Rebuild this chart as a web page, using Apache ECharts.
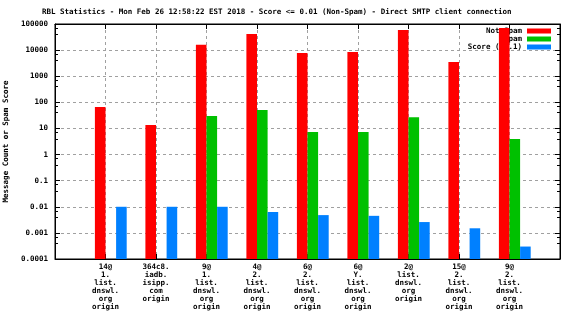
<!DOCTYPE html>
<html>
<head>
<meta charset="utf-8">
<script src="https://cdn.jsdelivr.net/npm/echarts@6/dist/echarts.min.js"></script>
<style>
  html, body { margin: 0; padding: 0; background: #fff; }
  #chart { width: 576px; height: 324px; }
</style>
</head>
<body>
<div id="chart"></div>
<script>
// RBL lookups per client: counts of non-spam / spam messages and the mean score
const categories = [
  '14@\n1.\nlist.\ndnswl.\norg\norigin',
  '364c8.\niadb.\nisipp.\ncom\norigin',
  '9@\n1.\nlist.\ndnswl.\norg\norigin',
  '4@\n2.\nlist.\ndnswl.\norg\norigin',
  '6@\n2.\nlist.\ndnswl.\norg\norigin',
  '6@\nY.\nlist.\ndnswl.\norg\norigin',
  '2@\nlist.\ndnswl.\norg\norigin',
  '15@\n2.\nlist.\ndnswl.\norg\norigin',
  '9@\n2.\nlist.\ndnswl.\norg\norigin'
];
const notSpam = [66, 13.6, 16000, 41500, 7700, 8450, 59000, 3500, 70000];
const spam = [null, null, 30, 51, 7.3, 7.3, 27, null, 3.9];
const score = [0.01, 0.01, 0.01, 0.0063, 0.0048, 0.0045, 0.0026, 0.0015, 0.0003];
const yTickLabels = ['0.0001', '0.001', '0.01', '0.1', '1', '10', '100', '1000', '10000', '100000'];

const FONT = 'DejaVu Sans Mono';
const FS = 7.5;
const FW = 'bold';

// one empty slot on each side of the nine clients
const pad = arr => [null].concat(arr, [null]);
const xData = pad(categories).map(v => v == null ? '' : v);

const gridLine = { show: true, lineStyle: { color: '#a0a0a0', type: [3, 3], width: 1 } };

const chart = echarts.init(document.getElementById('chart'), null, { renderer: 'canvas' });
chart.setOption({
  animation: false,
  backgroundColor: '#ffffff',
  textStyle: { fontFamily: FONT },
  title: {
    text: 'RBL Statistics - Mon Feb 26 12:58:22 EST 2018 - Score <= 0.01 (Non-Spam) - Direct SMTP client connection',
    left: 42, top: 8, padding: 0,
    textStyle: { fontFamily: FONT, fontSize: FS, fontWeight: FW, color: '#000', lineHeight: 8 }
  },
  legend: {
    orient: 'vertical', align: 'right', right: 25, top: 27, padding: 0,
    itemWidth: 24, itemHeight: 5, itemGap: 0, icon: 'rect', z: 1,
    selectedMode: false,
    data: ['Not Spam', 'Spam', 'Score (0..1)'],
    textStyle: { fontFamily: FONT, fontSize: FS, fontWeight: FW, color: '#000', lineHeight: 8 }
  },
  grid: {
    left: 55, right: 16, top: 24, bottom: 65,
    show: true, borderColor: '#000', borderWidth: 1,
    containLabel: false, outerBoundsMode: 'none'
  },
  xAxis: [{
    type: 'category', data: xData, boundaryGap: false, position: 'bottom',
    axisLine: { lineStyle: { color: '#000', width: 1 } },
    axisTick: { inside: true, length: 5, interval: 0, lineStyle: { color: '#000' } },
    axisLabel: { interval: 0, margin: 4, fontFamily: FONT, fontSize: FS, fontWeight: FW, color: '#000', lineHeight: 8 },
    splitLine: Object.assign({ interval: 0 }, gridLine)
  }, {
    type: 'category', data: xData, boundaryGap: false, position: 'top',
    axisLine: { lineStyle: { color: '#000', width: 1 } },
    axisTick: { inside: true, length: 5, interval: 0, lineStyle: { color: '#000' } },
    axisLabel: { show: false },
    splitLine: { show: false }
  }],
  yAxis: [{
    type: 'log', logBase: 10, min: 0.0001, max: 100000, interval: 1, startValue: 0.0001,
    position: 'left',
    name: 'Message Count or Spam Score', nameLocation: 'middle', nameGap: 44,
    nameTextStyle: { fontFamily: FONT, fontSize: FS, fontWeight: FW, color: '#000' },
    axisLine: { show: true, lineStyle: { color: '#000', width: 1 } },
    axisTick: { show: true, inside: true, length: 5, lineStyle: { color: '#000' } },
    minorTick: { show: true, splitNumber: 3, length: 3, lineStyle: { color: '#000' } },
    axisLabel: {
      margin: 7, fontFamily: FONT, fontSize: FS, fontWeight: FW, color: '#000',
      formatter: v => yTickLabels[Math.round(Math.log10(v)) + 4] || ''
    },
    splitLine: gridLine
  }, {
    type: 'log', logBase: 10, min: 0.0001, max: 100000, interval: 1,
    position: 'right',
    axisLine: { show: true, lineStyle: { color: '#000', width: 1 } },
    axisTick: { show: true, inside: true, length: 5, lineStyle: { color: '#000' } },
    minorTick: { show: true, splitNumber: 3, length: 3, lineStyle: { color: '#000' } },
    axisLabel: { show: false },
    splitLine: { show: false }
  }],
  series: [
    // empty leading slot so each cluster starts at its tick
    { name: 'spacer', type: 'bar', data: pad(new Array(9).fill(null)), barWidth: 10.6, barGap: '0%' },
    { name: 'Not Spam', type: 'bar', data: pad(notSpam), barWidth: 10.6, barGap: '0%', itemStyle: { color: '#ff0000' } },
    { name: 'Spam', type: 'bar', data: pad(spam), barWidth: 10.6, barGap: '0%', itemStyle: { color: '#00c000' } },
    { name: 'Score (0..1)', type: 'bar', data: pad(score), barWidth: 10.6, barGap: '0%', itemStyle: { color: '#0080ff' } }
  ]
});
</script>
</body>
</html>
